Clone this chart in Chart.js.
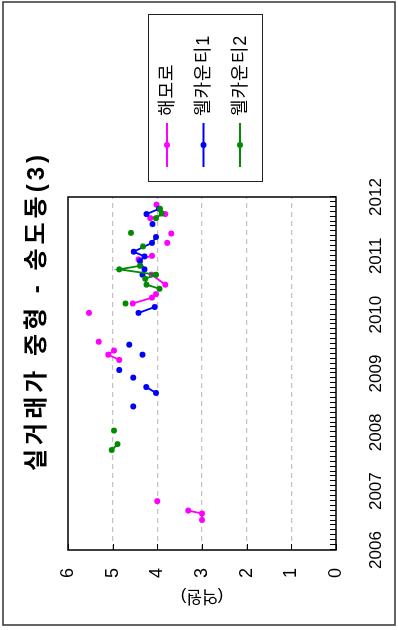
<!DOCTYPE html>
<html lang="ko">
<head>
<meta charset="utf-8">
<title>실거래가 중형 - 송도동(3)</title>
<script src="https://cdn.jsdelivr.net/npm/chart.js@4.4.1/dist/chart.umd.min.js"></script>
<style>
  html, body { margin: 0; padding: 0; background: #fff; overflow: hidden; }
  #page { position: relative; width: 398px; height: 630px; overflow: hidden; }
  /* the plot is drawn landscape and turned a quarter turn to the left */
  #turn { position: absolute; left: 0; top: 0; width: 630px; height: 398px;
          transform-origin: 0 0; transform: translate(0, 630px) rotate(-90deg); }
  canvas { display: block; }
</style>
</head>
<body>
<div id="page"><div id="turn"><canvas id="chart" width="630" height="398"></canvas></div></div>
<script>
// --- Data (decimal year, price in 억원); null breaks the line ---
const seriesNames = ['해모로', '웰카운티1', '웰카운티2'];

const hemoroDates  = [2006.51, 2006.62, 2006.67, null, 2006.83, null,
                      2009.23, 2009.32, 2009.39, null, 2009.54, null, 2010.03, null,
                      2010.19, 2010.29, 2010.35, null, 2010.51, 2010.68, null,
                      2010.94, 2011.00, null, 2011.22, null, 2011.38, null,
                      2011.64, 2011.71, 2011.87];
const hemoroPrices = [3.00, 3.00, 3.31, null, 4.00, null,
                      4.85, 5.10, 4.97, null, 5.31, null, 5.53, null,
                      4.55, 4.12, 4.03, null, 3.82, 4.13, null,
                      4.42, 4.12, null, 3.78, null, 3.69, null,
                      4.16, 3.82, 4.02];

const well1Dates  = [2008.44, null, 2008.67, 2008.77, null, 2008.93, null, 2009.06, null,
                     2009.32, null, 2009.49, null, 2010.03, 2010.13, null,
                     2010.68, 2010.77, 2010.91, 2010.99, 2011.07, 2011.22, 2011.32, null,
                     2011.54, null, 2011.71, 2011.80];
const well1Prices = [4.54, null, 4.03, 4.25, null, 4.54, null, 4.85, null,
                     4.33, null, 4.63, null, 4.42, 4.06, null,
                     4.33, 4.29, 4.39, 4.29, 4.53, 4.12, 4.03, null,
                     4.11, null, 4.24, 3.96];

const well2Dates  = [2007.70, 2007.80, null, 2008.03, null, 2010.19, null,
                     2010.44, 2010.51, 2010.61, 2010.68, 2010.77, 2010.83, null,
                     2011.16, null, 2011.39, null, 2011.64, 2011.72, 2011.80];
const well2Prices = [5.02, 4.89, null, 4.97, null, 4.71, null,
                     3.95, 4.24, 4.27, 4.03, 4.85, 4.39, null,
                     4.32, null, 4.59, null, 4.03, 3.90, 3.94];

const yearTicks  = [2006, 2007, 2008, 2009, 2010, 2011, 2012];
const priceTicks = [0, 1, 2, 3, 4, 5, 6];
const chartTitle = '실거래가 중형 - 송도동(3)';
const priceTitle = '(억원)';

const seriesColors = ['#ff00ff', '#0000ff', '#008b00'];
const FONT = '"Liberation Sans", "Noto Sans CJK KR", sans-serif';

// --- Helpers ---
function makeSeries(label, dates, prices, color, order) {
    return {
        label: label,
        order: order,
        data: dates.map((d, i) => ({ x: d, y: prices[i] })),
        borderColor: color,
        backgroundColor: color,
        borderWidth: 1.8,
        pointRadius: 3,
        pointHoverRadius: 3,
        pointBorderWidth: 0,
        tension: 0,
        spanGaps: false
    };
}

// box round the plot, inward ticks, and the frame round the whole figure
const framePlugin = {
    id: 'frame',
    beforeDatasetsDraw(chart) {
        const { ctx, chartArea: a, scales } = chart;
        ctx.save();
        ctx.strokeStyle = '#000';
        ctx.lineWidth = 1;
        ctx.beginPath();
        const first = yearTicks[0], last = yearTicks[yearTicks.length - 1];
        for (let m = 0; m <= (last - first) * 12; m++) {
            const px = Math.round(scales.x.getPixelForValue(first + m / 12)) + 0.5;
            ctx.moveTo(px, a.bottom);
            ctx.lineTo(px, a.bottom - 6);
        }
        priceTicks.forEach(v => {
            const py = Math.round(scales.y.getPixelForValue(v)) + 0.5;
            ctx.moveTo(a.left, py);
            ctx.lineTo(a.left + 6, py);
        });
        ctx.stroke();
        ctx.lineWidth = 1.5;
        ctx.strokeRect(a.left, a.top, a.right - a.left, a.bottom - a.top);
        ctx.strokeStyle = '#333';
        ctx.strokeRect(5, 3, chart.width - 7, chart.height - 6);
        ctx.restore();
    }
};

// title with wider letter spacing, centred on the whole figure
const titlePlugin = {
    id: 'spacedTitle',
    afterDraw(chart) {
        const ctx = chart.ctx;
        ctx.save();
        ctx.font = 'bold 24px ' + FONT;
        if ('letterSpacing' in ctx) ctx.letterSpacing = '4px';
        ctx.textAlign = 'center';
        ctx.textBaseline = 'middle';
        ctx.fillStyle = '#000';
        ctx.fillText(chartTitle, chart.width / 2 + 4, 37);
        ctx.restore();
    }
};

// legend in a box to the right of the plot: line with a dot, then the name
const legendPlugin = {
    id: 'boxLegend',
    afterDraw(chart) {
        const { ctx, chartArea: a } = chart;
        const left = a.right + 15, top = 148, w = 167, h = 114;
        ctx.save();
        ctx.strokeStyle = '#222';
        ctx.lineWidth = 1;
        ctx.strokeRect(left + 0.5, top + 0.5, w, h);
        ctx.font = '18px ' + FONT;
        if ('letterSpacing' in ctx) ctx.letterSpacing = '1px';
        ctx.textBaseline = 'middle';
        chart.data.datasets.forEach((ds, i) => {
            const y = top + 19 + i * 36.5;
            ctx.strokeStyle = ds.borderColor;
            ctx.lineWidth = 1.8;
            ctx.beginPath();
            ctx.moveTo(left + 15, y);
            ctx.lineTo(left + 59, y);
            ctx.stroke();
            ctx.fillStyle = ds.borderColor;
            ctx.beginPath();
            ctx.arc(left + 37, y, 3, 0, Math.PI * 2);
            ctx.fill();
            ctx.fillStyle = '#000';
            ctx.fillText(ds.label, left + 66, y + 1);
        });
        ctx.restore();
    }
};

Chart.defaults.font.family = FONT;
Chart.defaults.color = '#000';

const ctx = document.getElementById('chart').getContext('2d');
new Chart(ctx, {
    type: 'line',
    data: {
        datasets: [
            makeSeries(seriesNames[0], hemoroDates, hemoroPrices, seriesColors[0], 3),
            makeSeries(seriesNames[1], well1Dates, well1Prices, seriesColors[1], 2),
            makeSeries(seriesNames[2], well2Dates, well2Prices, seriesColors[2], 1)
        ]
    },
    options: {
        responsive: false,
        animation: false,
        events: [],
        layout: { padding: { top: 68, left: 0, right: 0, bottom: 0 } },
        plugins: {
            legend: { display: false },
            tooltip: { enabled: false },
            title: { display: false }
        },
        scales: {
            x: {
                type: 'linear',
                min: yearTicks[0],
                max: yearTicks[yearTicks.length - 1],
                afterBuildTicks: s => { s.ticks = yearTicks.map(v => ({ value: v })); },
                ticks: { callback: v => String(v), autoSkip: false, maxRotation: 0, padding: 22, font: { size: 17 } },
                grid: { display: false },
                border: { display: false },
                afterFit: s => { s.height = 62; }
            },
            y: {
                type: 'linear',
                min: priceTicks[0],
                max: priceTicks[priceTicks.length - 1],
                afterBuildTicks: s => { s.ticks = priceTicks.map(v => ({ value: v })); },
                ticks: { callback: v => String(v), padding: 18, font: { size: 18 } },
                grid: {
                    drawTicks: false,
                    lineWidth: 1.2,
                    color: c => (c.tick && c.tick.value > 0 && c.tick.value < 6) ? '#c4c4c4' : 'rgba(0,0,0,0)'
                },
                border: { display: false, dash: [5, 4] },
                title: { display: true, text: priceTitle, font: { size: 17 }, padding: { top: 24, bottom: 0 } },
                afterFit: s => { s.width = 80; }
            },
            legendSpace: {
                type: 'linear',
                position: 'right',
                grid: { display: false },
                border: { display: false },
                ticks: { display: false },
                afterFit: s => { s.width = 197; }
            }
        }
    },
    plugins: [framePlugin, titlePlugin, legendPlugin]
});
</script>
</body>
</html>
